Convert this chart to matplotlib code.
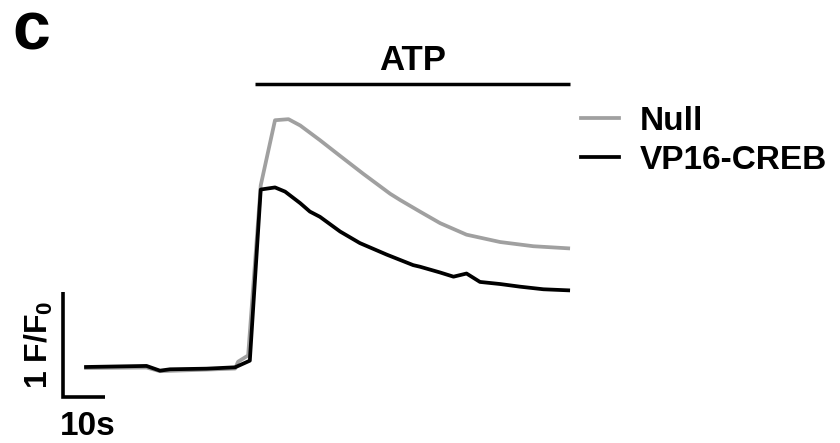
import matplotlib
matplotlib.use("Agg")
import matplotlib.pyplot as plt

plt.rcParams["font.family"] = ["Liberation Sans", "DejaVu Sans"]
plt.rcParams["font.weight"] = "bold"
plt.rcParams["mathtext.fontset"] = "custom"
plt.rcParams["mathtext.rm"] = "Liberation Sans:bold"
plt.rcParams["mathtext.it"] = "Liberation Sans:bold"
plt.rcParams["mathtext.bf"] = "Liberation Sans:bold"

# Calcium traces (time in s, normalised fluorescence F/F0)
t_creb = [0, 14.4, 17.6, 20, 28.7, 35.5, 39, 41.6, 45, 47.4, 51, 53.3, 55.7,
          60.5, 65.2, 71.6, 77.9, 79.5, 84.3, 87.5, 90.6, 93.8, 98.6, 103.3,
          108.9, 114.8]
f_creb = [1.0, 1.01, 0.965, 0.978, 0.984, 0.997, 1.06, 2.69, 2.71, 2.67, 2.56,
          2.48, 2.43, 2.29, 2.18, 2.07, 1.97, 1.955, 1.90, 1.86, 1.89, 1.81,
          1.79, 1.765, 1.74, 1.73]

t_null = [0, 14.4, 17.6, 28.7, 35.5, 36.2, 38.6, 41.6, 45, 48.2, 51, 55.7,
          60.5, 66, 72.4, 74.8, 79.5, 84.3, 90.6, 98.6, 106.5, 114.8]
f_null = [0.99, 0.995, 0.96, 0.975, 0.985, 1.05, 1.11, 2.73, 3.35, 3.36, 3.30,
          3.16, 3.01, 2.84, 2.65, 2.59, 2.48, 2.37, 2.26, 2.19, 2.15, 2.13]

series_labels = ["Null", "VP16-CREB"]
series_colors = ["#a0a0a0", "#000000"]

atp_window = [40.2, 115.2]
atp_level = 3.695

# Scale bar: 10 s horizontal, 1 F/F0 vertical
bar_origin = (-5.5, 0.714)
bar_time = 10
bar_amp = 1

fig = plt.figure(figsize=(8.4, 4.43), dpi=100)
ax = fig.add_axes([0, 0, 1, 1])
ax.set_xlim(-20.48, 179.52)
ax.set_ylim(0.276, 4.495)
ax.axis("off")

ax.plot(t_null, f_null, color=series_colors[0], lw=2.7,
        solid_joinstyle="round", label=series_labels[0])
ax.plot(t_creb, f_creb, color=series_colors[1], lw=2.7,
        solid_joinstyle="round", label=series_labels[1])

# ATP application bar
ax.plot(atp_window, [atp_level, atp_level], color="black", lw=2.5,
        solid_capstyle="butt")
ax.text(sum(atp_window) / 2, atp_level + 0.13, "ATP", ha="center",
        va="baseline", fontsize=25, fontweight="bold")

# Scale bar
x0, y0 = bar_origin
ax.plot([x0, x0, x0 + bar_time], [y0 + bar_amp, y0, y0], color="black",
        lw=2.6, solid_joinstyle="miter", solid_capstyle="butt")
ax.text(x0 - 5.7, y0 + bar_amp / 2, r"1 F/F$_0$", rotation=90, ha="center",
        va="center", fontsize=23, fontweight="bold")
ax.text(x0 - 0.7, y0 - 0.36, "10s", ha="left", va="baseline", fontsize=24,
        fontweight="bold")

leg = ax.legend(loc="upper left", bbox_to_anchor=(581 / 840, 1 - 106 / 443),
                frameon=False, fontsize=24, handlelength=1.15,
                handletextpad=0.6, labelspacing=0.24, borderpad=0,
                borderaxespad=0)
for txt in leg.get_texts():
    txt.set_fontweight("bold")
for line in leg.get_lines():
    line.set_linewidth(2.7)

fig.text(12 / 840, 1 - 49 / 443, "c", fontsize=49, fontweight="bold",
         ha="left", va="baseline")

fig.savefig("out.png", dpi=100)
